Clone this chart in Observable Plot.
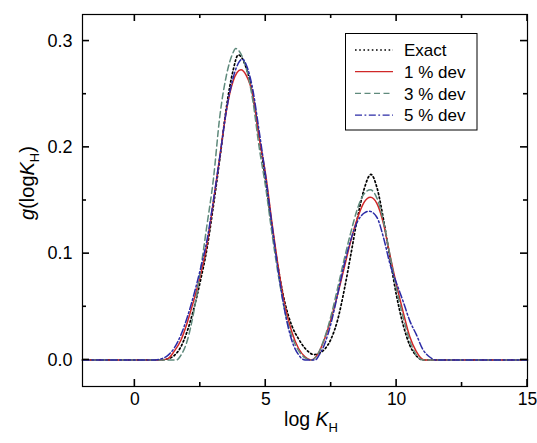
<!DOCTYPE html>
<html><head><meta charset="utf-8">
<script src="https://cdn.jsdelivr.net/npm/d3@7"></script>
<script src="https://cdn.jsdelivr.net/npm/@observablehq/plot@0.6"></script>
<style>body{margin:0;background:#fff} #chart{width:537px;height:443px}</style>
</head><body><div id="chart"></div>
<script>
// ---- data ----
const seriesNames = ["Exact", "1 % dev", "3 % dev", "5 % dev"];

const exactX = [-2, 1.0, 1.25, 1.5, 1.75, 2.0, 2.25, 2.5, 2.75, 3.0, 3.25, 3.5, 3.75, 3.95, 4.25, 4.5, 4.75, 5.0, 5.25, 5.5, 5.75, 6.0, 6.25, 6.5, 6.85, 7.0, 7.25, 7.5, 7.75, 8.0, 8.25, 8.5, 8.75, 9.02, 9.25, 9.5, 9.75, 10.0, 10.25, 10.5, 10.75, 11.0, 15];
const exactY = [0, 0, 0.001, 0.004, 0.012, 0.027, 0.048, 0.074, 0.104, 0.145, 0.19, 0.238, 0.272, 0.287, 0.275, 0.25, 0.21, 0.168, 0.123, 0.083, 0.052, 0.032, 0.02, 0.011, 0.005, 0.006, 0.01, 0.02, 0.038, 0.066, 0.099, 0.133, 0.16, 0.1745, 0.162, 0.132, 0.095, 0.06, 0.033, 0.014, 0.004, 0, 0];

const dev1X = [-2, 1.0, 1.25, 1.5, 1.75, 2.0, 2.25, 2.5, 2.75, 3.0, 3.25, 3.5, 3.75, 4.05, 4.25, 4.5, 4.75, 5.0, 5.25, 5.5, 5.75, 6.0, 6.25, 6.5, 6.72, 7.0, 7.25, 7.5, 7.75, 8.0, 8.25, 8.5, 8.75, 9.0, 9.25, 9.5, 9.75, 10.0, 10.25, 10.5, 10.75, 11.05, 15];
const dev1Y = [0, 0, 0.001, 0.008, 0.018, 0.035, 0.056, 0.079, 0.108, 0.149, 0.192, 0.235, 0.262, 0.273, 0.268, 0.25, 0.209, 0.174, 0.127, 0.084, 0.049, 0.026, 0.011, 0.003, 0, 0.006, 0.02, 0.039, 0.062, 0.087, 0.112, 0.133, 0.148, 0.153, 0.147, 0.128, 0.098, 0.07, 0.045, 0.022, 0.008, 0, 0];

const dev3X = [-2, 1.6, 1.75, 2.0, 2.25, 2.5, 2.75, 3.0, 3.25, 3.5, 3.75, 3.85, 4.0, 4.25, 4.5, 4.75, 5.0, 5.25, 5.5, 5.75, 6.0, 6.25, 6.5, 6.75, 7.0, 7.25, 7.5, 7.75, 8.0, 8.25, 8.5, 8.75, 9.0, 9.25, 9.5, 9.75, 10.0, 10.25, 10.5, 10.75, 11.0, 15];
const dev3Y = [0, 0, 0.004, 0.018, 0.045, 0.083, 0.126, 0.17, 0.23, 0.268, 0.289, 0.293, 0.29, 0.275, 0.245, 0.2, 0.162, 0.117, 0.077, 0.044, 0.022, 0.009, 0.002, 0, 0.006, 0.021, 0.042, 0.068, 0.095, 0.12, 0.142, 0.156, 0.16, 0.152, 0.13, 0.098, 0.066, 0.04, 0.018, 0.005, 0, 0];

const dev5X = [-2, 0.8, 1.0, 1.25, 1.5, 1.75, 2.0, 2.25, 2.5, 2.75, 3.0, 3.25, 3.5, 3.75, 4.0, 4.1, 4.25, 4.5, 4.75, 5.0, 5.25, 5.5, 5.75, 6.0, 6.25, 6.5, 6.9, 7.0, 7.25, 7.5, 7.75, 8.0, 8.25, 8.5, 8.75, 8.95, 9.25, 9.5, 9.75, 10.0, 10.25, 10.5, 10.75, 11.0, 11.25, 11.5, 15];
const dev5Y = [0, 0, 0.001, 0.004, 0.011, 0.023, 0.04, 0.061, 0.085, 0.112, 0.15, 0.192, 0.235, 0.265, 0.281, 0.283, 0.278, 0.255, 0.215, 0.172, 0.125, 0.08, 0.043, 0.018, 0.005, 0, 0, 0.003, 0.015, 0.035, 0.062, 0.09, 0.113, 0.13, 0.138, 0.14, 0.134, 0.115, 0.09, 0.072, 0.055, 0.037, 0.024, 0.01, 0.003, 0, 0];

const xTicks = [0, 5, 10, 15];
const xMinorTicks = [2.5, 7.5, 12.5];
const yTicks = [0, 0.1, 0.2, 0.3];
const yMinorTicks = [0.05, 0.15, 0.25];

// ---- styles ----
const styles = [
  {stroke: "#000000", dash: "1.6,2.6", width: 1.7},
  {stroke: "#d02828", dash: null, width: 1.5},
  {stroke: "#5f8a7c", dash: "6,3.5", width: 1.5},
  {stroke: "#2b2ba6", dash: "7,2.5,1.8,2.5", width: 1.5}
];
const xs = [exactX, dev1X, dev3X, dev5X];
const ys = [exactY, dev1Y, dev3Y, dev5Y];

const lineMarks = seriesNames.map((name, k) => {
  const rows = xs[k].map((x, i) => ({x, y: ys[k][i]}));
  return Plot.line(rows, {x: "x", y: "y", stroke: styles[k].stroke, strokeWidth: styles[k].width,
    strokeDasharray: styles[k].dash, curve: "monotone-x"});
});

const W = 537, H = 443, mL = 82, mR = 10, mT = 14, mB = 57;
const font = "'Liberation Sans', Arial, sans-serif";
const plot = Plot.plot({
  width: W, height: H,
  marginLeft: mL, marginRight: mR, marginTop: mT, marginBottom: mB,
  x: {domain: [-2, 15]},
  y: {domain: [-0.025, 0.325]},
  marks: [
    ...lineMarks,
    Plot.axisX(xTicks, {anchor: "bottom", tickSize: 0, tickPadding: 6, tickFormat: d => String(d), label: null, fontSize: "17.5px", fontFamily: font, fill: "#000"}),
    Plot.axisY(yTicks, {anchor: "left", tickSize: 0, tickPadding: 10, tickFormat: d3.format(".1f"), label: null, fontSize: "18px", fontFamily: font, fill: "#000"}),
    Plot.frame({stroke: "#000", strokeWidth: 1.2})
  ]
});

const svg = d3.select(plot);
const sx = plot.scale("x"), sy = plot.scale("y");
const xL = mL, xR = W - mR, yB = H - mB, yT = mT;
// inward ticks on all four sides, positioned with Plot's scales
function tick(x1, y1, x2, y2) {
  svg.append("line").attr("x1", x1).attr("y1", y1).attr("x2", x2).attr("y2", y2)
    .attr("stroke", "#000").attr("stroke-width", 1.6);
}
[[xTicks, 7], [xMinorTicks, 4]].forEach(([arr, len]) => arr.forEach(v => {
  const px = sx.apply(v);
  tick(px, yB, px, yB - len);
  tick(px, yT, px, yT + len);
}));
[[yTicks, 7], [yMinorTicks, 4]].forEach(([arr, len]) => arr.forEach(v => {
  const py = sy.apply(v);
  tick(xL, py, xL + len, py);
  tick(xR, py, xR - len, py);
}));

// x axis title
const xl = svg.append("text").attr("x", 311).attr("y", 425.5).attr("text-anchor", "middle")
  .style("font-family", font).style("font-size", "19.5px").attr("fill", "#000");
xl.append("tspan").text("log ");
xl.append("tspan").attr("font-style", "italic").text("K");
xl.append("tspan").attr("font-size", "13px").attr("dy", 6).text("H");

// y axis title
const yl = svg.append("text").attr("transform", "translate(33.5,183) rotate(-90)").attr("text-anchor", "middle")
  .style("font-family", font).style("font-size", "20px").attr("fill", "#000");
yl.append("tspan").attr("font-style", "italic").text("g");
yl.append("tspan").text("(log");
yl.append("tspan").attr("font-style", "italic").text("K");
yl.append("tspan").attr("font-size", "13px").attr("dy", 5).text("H");
yl.append("tspan").attr("dy", -5).text(")");

// legend
const lg = svg.append("g");
lg.append("rect").attr("x", 345.5).attr("y", 33.5).attr("width", 131.5).attr("height", 96.5)
  .attr("fill", "#fff").attr("stroke", "#000").attr("stroke-width", 1);
seriesNames.forEach((name, k) => {
  const yy = 50 + k * 21.7;
  lg.append("line").attr("x1", 355).attr("x2", 393).attr("y1", yy).attr("y2", yy)
    .attr("stroke", styles[k].stroke).attr("stroke-width", 1.3)
    .attr("stroke-dasharray", styles[k].dash);
  lg.append("text").attr("x", 404).attr("y", yy).attr("dy", "0.36em").attr("text-anchor", "start")
    .style("font-family", font).style("font-size", "17px").attr("fill", "#000").text(name);
});

document.getElementById("chart").appendChild(plot);
</script>
</body></html>
